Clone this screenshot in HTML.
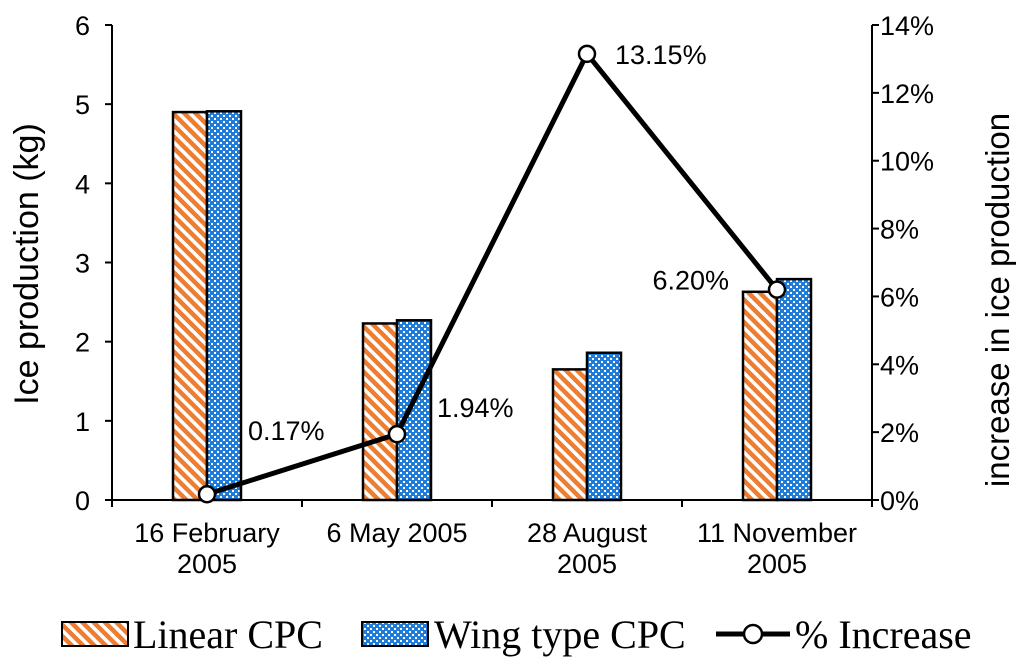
<!DOCTYPE html>
<html><head><meta charset="utf-8"><style>
body{margin:0;background:#fff}
svg{display:block;font-family:"Liberation Sans",sans-serif}
</style></head><body>
<svg id="c" width="1024" height="661" viewBox="0 0 1024 661">
<defs>
<pattern id="stripe" patternUnits="userSpaceOnUse" width="8" height="8" patternTransform="rotate(-45)">
<rect width="8" height="8" fill="#fff"/><rect width="4.5" height="8" fill="#ED7D31"/>
</pattern>
<pattern id="dots" patternUnits="userSpaceOnUse" width="6" height="6">
<rect width="6" height="6" fill="#1F7CD8"/><rect x="1" y="1" width="2" height="2" fill="#fff"/><rect x="4" y="4" width="2" height="2" fill="#fff"/>
</pattern>
</defs>
<g id="g"></g>
</svg>
<script>
const categories=[["16 February","2005"],["6 May 2005"],["28 August","2005"],["11 November","2005"]];
const linearCPC=[4.9,2.23,1.65,2.63];
const wingCPC=[4.91,2.27,1.86,2.79];
const pctIncrease=[0.17,1.94,13.15,6.20];
const pctLabels=["0.17%","1.94%","13.15%","6.20%"];
const leftTicks=[0,1,2,3,4,5,6];
const rightTicks=[0,2,4,6,8,10,12,14];
const NS="http://www.w3.org/2000/svg";
const g=document.getElementById('g');
const L=112,R=872,T=25,B=500;
const yL=v=>B-(v/6)*(B-T);
const yR=v=>B-(v/14)*(B-T);
const xC=i=>L+(R-L)/4*(i+0.5);
function el(t,a,txt){const e=document.createElementNS(NS,t);for(const k in a)e.setAttribute(k,a[k]);if(txt!==undefined)e.textContent=txt;g.appendChild(e);return e;}
const bw=34;
linearCPC.forEach((v,i)=>{const r=el('rect',{x:xC(i)-bw,y:yL(v),width:bw,height:B-yL(v),fill:'url(#stripe)',stroke:'#000','stroke-width':2.5});
});
wingCPC.forEach((v,i)=>{const r=el('rect',{x:xC(i),y:yL(v),width:bw,height:B-yL(v),fill:'url(#dots)',stroke:'#000','stroke-width':2.5});
});
let a=el('line',{x1:L,y1:T,x2:L,y2:B,stroke:'#000','stroke-width':2});
a=el('line',{x1:R,y1:T,x2:R,y2:B,stroke:'#000','stroke-width':2});
a=el('line',{x1:L,y1:B,x2:R,y2:B,stroke:'#000','stroke-width':2});
leftTicks.forEach(v=>{el('line',{x1:L-7,y1:yL(v),x2:L,y2:yL(v),stroke:'#000','stroke-width':2});
const t=el('text',{x:L-22,y:yL(v)+10,'font-size':27,'text-anchor':'end'},v);});
rightTicks.forEach(v=>{el('line',{x1:R,y1:yR(v),x2:R+7,y2:yR(v),stroke:'#000','stroke-width':2});
const t=el('text',{x:R+8,y:yR(v)+10,'font-size':27},v+'%');});
for(let i=0;i<=4;i++)el('line',{x1:L+(R-L)/4*i,y1:B,x2:L+(R-L)/4*i,y2:B+7,stroke:'#000','stroke-width':2});
categories.forEach((c,i)=>c.forEach((s,j)=>{const t=el('text',{x:xC(i),y:542+j*31,'font-size':27,'text-anchor':'middle'},s);}));
const pts=pctIncrease.map((v,i)=>xC(i)+','+yR(v)).join(' ');
a=el('polyline',{points:pts,fill:'none',stroke:'#000','stroke-width':5,'stroke-linejoin':'round'});
pctIncrease.forEach((v,i)=>{const c=el('circle',{cx:xC(i),cy:yR(v),r:8,fill:'#fff',stroke:'#000','stroke-width':2.5});});
const lblOff=[[41,-54,'start'],[40,-17,'start'],[28,10,'start'],[-48,0,'end']];
pctLabels.forEach((s,i)=>{const t=el('text',{x:xC(i)+lblOff[i][0],y:yR(pctIncrease[i])+lblOff[i][1],'font-size':27,'text-anchor':lblOff[i][2]},s);});
let t=el('text',{transform:'translate(38,264) rotate(-90)','font-size':34,'text-anchor':'middle'},'Ice production (kg)');
t=el('text',{transform:'translate(1009,300) rotate(-90)','font-size':33,'text-anchor':'middle'},'increase in ice production');
// legend
let r=el('rect',{x:62,y:622,width:66,height:24,fill:'url(#stripe)',stroke:'#000','stroke-width':2});
t=el('text',{x:133,y:648,'font-size':40,'font-family':'Liberation Serif'},'Linear CPC');
r=el('rect',{x:362,y:622,width:66,height:24,fill:'url(#dots)',stroke:'#000','stroke-width':2});
t=el('text',{x:434,y:648,'font-size':40,'font-family':'Liberation Serif'},'Wing type CPC');
el('line',{x1:716,y1:634,x2:790,y2:634,stroke:'#000','stroke-width':5});
el('circle',{cx:753,cy:634,r:9,fill:'#fff',stroke:'#000','stroke-width':2.5});
t=el('text',{x:795,y:648,'font-size':40,'font-family':'Liberation Serif'},'% Increase');
</script>
</body></html>
